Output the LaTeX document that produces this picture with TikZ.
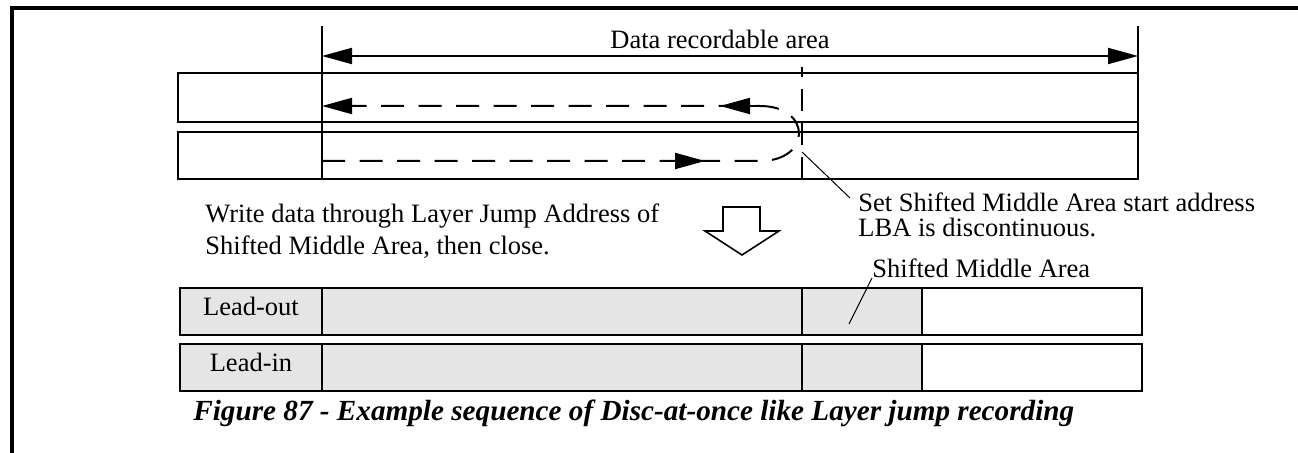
\documentclass[tikz,border=0pt]{standalone}
\usepackage{fontspec}
\setmainfont{Liberation Serif}
\usetikzlibrary{arrows.meta}
\tikzset{
  boxline/.style={line width=1pt},
  txt/.style={inner sep=0pt, anchor=base west, font=\fontsize{13.25}{16}\selectfont},
  bigtip/.style={-{Triangle[length=15pt,width=8pt]}},
  trackdash/.style={line width=1pt, dash pattern=on 11.5pt off 7.25pt},
  callout/.style={line width=0.5pt},
}
\begin{document}
\begin{tikzpicture}[x=0.5pt, y=-0.5pt]
  \useasboundingbox (0,0) rectangle (1298,453);
  % page frame (top and left edge only)
  \draw[line width=1.7pt] (12,453) -- (12,8) -- (1298,8);
  % two layers before closing
  \draw[boxline] (178,73) rectangle (1138,122);
  \draw[boxline] (178,132) rectangle (1138,179);
  \coordinate (startL) at (322,26);
  \coordinate (endR) at (1138,26);
  \draw[boxline] (startL) -- (322,180);
  \draw[boxline] (endR) -- (1138,180);
  % data recordable area
  \coordinate (dataL) at (322,56);
  \coordinate (dataR) at (1138,56);
  \draw[boxline, {Triangle[length=15pt,width=8pt]}-{Triangle[length=15pt,width=8pt]}] (dataL) -- (dataR);
  \node[txt, anchor=base] (datalbl) at (720,49) {Data recordable area};
  % recording path: out on layer 0, jump, back on layer 1
  \draw[trackdash, bigtip] (322,161) -- (760,161) .. controls (812,161) and (812,106) .. (760,106) -- (322,106);
  \draw[boxline, bigtip] (756,106) -- (720,106);
  \draw[boxline, bigtip] (670,161) -- (705,161);
  \draw[line width=1pt, dash pattern=on 11pt off 6pt, dash phase=6pt] (802,67) -- (802,187);
  % jump address callout
  \coordinate (jump) at (802,152);
  \coordinate (setpt) at (850,198);
  \draw[callout] (jump) -- (setpt);
  \node[txt] (setA) at (858,212) {Set Shifted Middle Area start address};
  \node[txt] (setB) at (858,237) {LBA is discontinuous.};
  % step text and hollow arrow
  \node[txt] (writeA) at (205,223) {Write data through Layer Jump Address of};
  \node[txt] (writeB) at (205,255) {Shifted Middle Area, then close.};
  \draw[line width=0.8pt] (723,207) -- (760,207) -- (760,231) -- (779,231) -- (742,255) -- (705,231) -- (723,231) -- cycle;
  % closed disc
  \foreach \top/\lbl/\nm in {288/Lead-out/leadout, 344/Lead-in/leadin}{
    \fill[gray!20] (180,\top) rectangle (922,\top+47);
    \draw[boxline] (180,\top) rectangle (1142,\top+47);
    \draw[boxline] (322,\top) -- (322,\top+47) (802,\top) -- (802,\top+47) (922,\top) -- (922,\top+47);
    \node[txt, anchor=base] (\nm) at (251,\top+28) {\lbl};
  }
  \node[txt] (smalbl) at (872,278) {Shifted Middle Area};
  \coordinate (smapt) at (849,324);
  \draw[callout] (smalbl.base west) -- (smapt);
  % caption
  \node[txt, font=\fontsize{14.6}{17}\selectfont\bfseries\itshape] (caption) at (193,421) {Figure 87 - Example sequence of Disc-at-once like Layer jump recording};
\end{tikzpicture}
\end{document}
